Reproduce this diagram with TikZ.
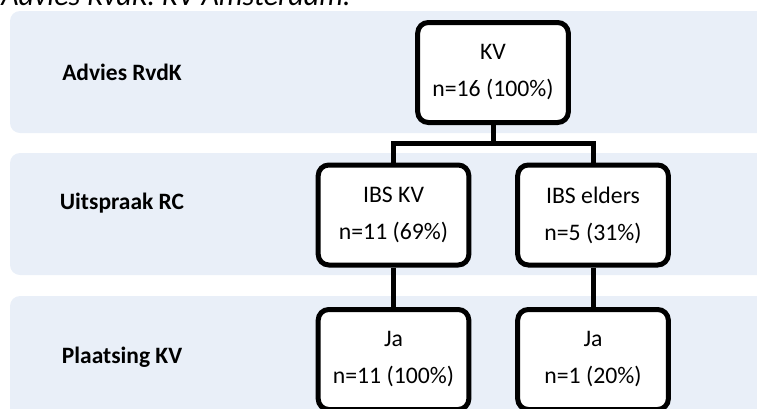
\documentclass[tikz,border=0pt]{standalone}
\usepackage{fontspec}
\setmainfont{Carlito}
\usepackage{xcolor}
\definecolor{bandblue}{RGB}{233,239,248}

\begin{document}
\begin{tikzpicture}[x=0.75pt,y=-0.75pt,
		band/.style={fill=bandblue, rounded corners=7.5pt},
		rowlabel/.style={font=\fontsize{17.6}{21}\selectfont\bfseries},
		box/.style={draw, fill=white, line width=3.75pt, rounded corners=8pt,
			minimum width=113pt, minimum height=75pt, align=center,
			font=\fontsize{17.8}{27.75}\selectfont},
		conn/.style={line width=3.75pt}]
		\useasboundingbox (0,0) rectangle (757,408);
		\clip (0,0) rectangle (757,408);
		% title (cut off at the top)
		\node[anchor=base west, inner sep=0pt, font=\fontsize{22.5}{27}\selectfont\itshape] (title) at (1,5.5) {Advies RvdK: KV Amsterdam:};
		% bands
		\fill[band] (10,11) rectangle (800,133);
		\fill[band] (10,153) rectangle (800,275);
		\fill[band] (10,296) rectangle (800,420);
		\node[rowlabel] (advies) at (122,72) {Advies RvdK};
		\node[rowlabel] (uitspraak) at (122,203) {Uitspraak RC};
		\node[rowlabel] (plaatsing) at (122,357) {Plaatsing KV};
		% boxes
		\node[box] (kv) at (493,72.5) {KV\\n=16 (100\%)};
		\node[box] (ibskv) at (393.5,215) {IBS KV\\n=11 (69\%)};
		\node[box] (ibselders) at (593,215) {IBS elders\\n=5 (31\%)};
		\node[box] (ja1) at (393.5,359.5) {Ja\\n=11 (100\%)};
		\node[box] (ja2) at (593,359.5) {Ja\\n=1 (20\%)};
		% connectors
		\coordinate (split) at (493,143);
		\draw[conn] (kv.south) -- (split);
		\draw[conn] (split) -| (ibskv.north);
		\draw[conn] (split) -| (ibselders.north);
		\draw[conn] (ibskv.south) -- (ja1.north);
		\draw[conn] (ibselders.south) -- (ja2.north);
	\end{tikzpicture}
\end{document}
